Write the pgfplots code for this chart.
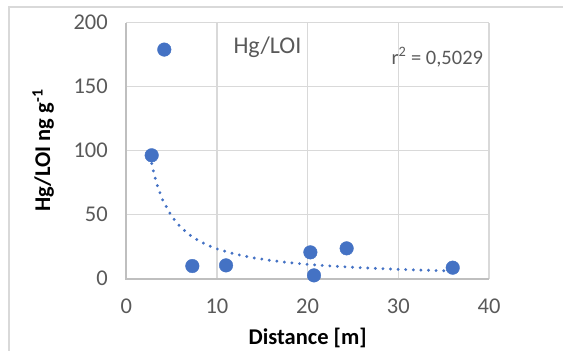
\documentclass[border=0pt]{standalone}
\usepackage{pgfplots}
\pgfplotsset{compat=1.18}
\usepackage{fontspec}
\setmainfont{Carlito}
\definecolor{mblue}{HTML}{4472C4}
\definecolor{tickgray}{HTML}{595959}
\definecolor{gridgray}{HTML}{D9D9D9}
\definecolor{axgray}{HTML}{BFBFBF}
\begin{document}
\begin{tikzpicture}[x=1pt,y=1pt]
\useasboundingbox (0,0) rectangle (563,351);
\draw[gridgray, line width=1.4pt] (9,-20) -- (9,344) -- (600,344);
\begin{axis}[
  at={(126.3pt,72.3pt)}, anchor=south west,
  scale only axis, width=362.7pt, height=256pt,
  xmin=0, xmax=40, ymin=0, ymax=200,
  xtick={0,10,20,30,40}, ytick={0,50,100,150,200},
  major tick length=0pt,
  grid=major,
  grid style={gridgray, line width=1.6pt},
  axis line style={draw=none},
  ticklabel style={font=\fontsize{22.5}{26}\selectfont, text=tickgray},
  /pgf/number format/assume math mode=true,
  xticklabel style={yshift=-17pt},
  yticklabel style={xshift=-15pt},
  xlabel={\textbf{Distance [m]}},
  ylabel={\textbf{Hg/LOI ng g\textsuperscript{-1}}},
  label style={font=\fontsize{22.5}{26}\selectfont, text=black},
  xlabel style={at={(axis description cs:0.5,0)}, anchor=center, yshift=-59pt},
  ylabel style={at={(axis description cs:-0.229,0.5)}, anchor=center},
  clip=false,
]
% axis lines left & bottom
\draw[axgray, line width=2.2pt] (axis cs:0,200) -- (axis cs:0,0) -- (axis cs:40,0);
% trend line (power fit)
\addplot[mblue, line width=3.2pt, line cap=round, dash pattern=on 0pt off 7.6pt] coordinates {
(2.8,90.0) (3,83.6) (3.5,71.0) (4,61.6) (5,48.7) (6,40.1) (7,34.1) (8,29.6) (9,26.1)
(10,23.3) (12,19.2) (14,16.3) (16,14.2) (18,12.5) (20,11.2) (23,9.7) (26,8.5)
(30,7.3) (33,6.6) (36,6.0)};
% data
\addplot[only marks, mark=*, mark size=6.8pt, mark options={fill=mblue, draw=mblue}] coordinates {
(2.8,96.4) (4.19,179) (7.28,9.9) (11.0,10.4) (20.3,20.6) (20.7,2.6) (24.3,23.7) (36.0,8.6)};
\node[text=tickgray, font=\fontsize{24}{28}\selectfont] at (axis cs:15.57,181) {Hg/LOI};
\node[text=tickgray, font=\fontsize{20.5}{24}\selectfont] at (axis cs:34.3,173.0) {r\textsuperscript{2} = 0,5029};
\end{axis}
\end{tikzpicture}
\end{document}
